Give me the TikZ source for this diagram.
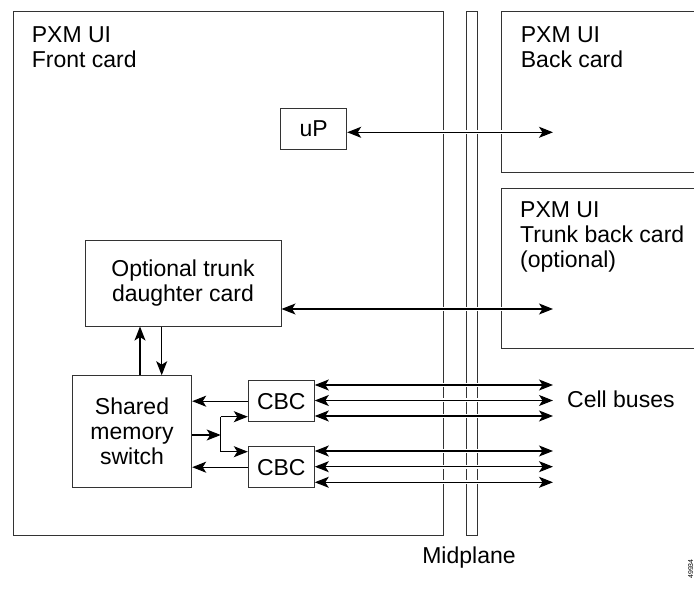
\documentclass[tikz,border=0pt]{standalone}
\usepackage{fontspec}
\setmainfont{Liberation Sans}
\usetikzlibrary{arrows.meta}
\begin{document}
\begin{tikzpicture}[x=1pt,y=-1pt,
  >={Stealth[length=14pt,width=11pt,inset=3.5pt]},
  txt/.style={font=\fontsize{23}{25}\selectfont, inner sep=0pt},
  card/.style={draw=black!80, line width=1pt, inner sep=0pt, anchor=north west},
  box/.style={draw=black!80, line width=1pt, inner sep=0pt, align=center, font=\fontsize{23}{25}\selectfont},
  halo/.style={preaction={draw=white, line width=4pt, arrows=-, shorten <=4pt, shorten >=4pt}},
  conn/.style={line width=1.1pt, ->, halo},
  conntwo/.style={line width=1.1pt, <->, halo},
  plain/.style={line width=1.1pt}
]
\useasboundingbox (0,0) rectangle (694,593);

% cards and midplane
\node[card, minimum width=430pt, minimum height=524pt] (front) at (12.5,11) {};
\node[card, minimum width=11pt, minimum height=524pt] (mid) at (466,11) {};
\node[card, minimum width=220pt, minimum height=161.3pt] (back) at (501,11) {};
\node[card, minimum width=220pt, minimum height=160.6pt] (trunkback) at (501,187.7) {};

% card labels (base anchor = baseline of last line)
\node[txt, anchor=base west, align=left] (frontlbl) at (31.7,68) {PXM UI\\Front card};
\node[txt, anchor=base west, align=left] (backlbl) at (520.7,68) {PXM UI\\Back card};
\node[txt, anchor=base west, align=left] (trunklbl) at (520,267.5) {PXM UI\\Trunk back card\\(optional)};
\node[txt, anchor=base west] (celllbl) at (567,408) {Cell buses};
\node[txt, anchor=base] (midlbl) at (469,563) {Midplane};
\node[inner sep=0pt, font=\fontsize{7}{7}\selectfont, rotate=90, anchor=south] (figid) at (693.5,569) {49934};

% inner boxes
\node[box, minimum width=66pt, minimum height=40.7pt] (up) at (313.7,128.7) {uP};
\node[box, minimum width=196pt, minimum height=85.3pt] (opt) at (183,283.4) {Optional trunk\\daughter card};
\node[box, minimum width=119.4pt, minimum height=112pt] (sms) at (132,431.7) {Shared\\memory\\switch};
\node[box, minimum width=66pt, minimum height=41pt] (cbca) at (281.3,401.2) {CBC};
\node[box, minimum width=66pt, minimum height=41pt] (cbcb) at (281.3,467.2) {CBC};

% free ends
\coordinate (rend) at (553,0);
\coordinate (upy) at (0,132.3);
\coordinate (trky) at (0,309);
\coordinate (fork) at (220.7,435);
\coordinate (forka) at (220.7,416.7);
\coordinate (forkb) at (220.7,451.7);
\coordinate (upx) at (140,0);
\coordinate (dnx) at (161.7,0);

% uP link
\draw[conntwo] (up.east |- upy) -- (rend |- upy);
% trunk link
\draw[conntwo] (opt.east |- trky) -- (rend |- trky);
% SMS <-> optional daughter card
\draw[conn] (sms.north -| upx) -- (opt.south -| upx);
\draw[conn] (opt.south -| dnx) -- (sms.north -| dnx);
% CBC -> SMS
\draw[conn] (cbca.west) -- (cbca.west -| sms.east);
\draw[conn] (cbcb.west) -- (cbcb.west -| sms.east);
% SMS -> fork -> CBCs
\draw[conn] (sms.east |- fork) -- (fork);
\draw[plain] (forka) -- (forkb);
\draw[conn] (forka) -- (forka -| cbca.west);
\draw[conn] (forkb) -- (forkb -| cbcb.west);
% cell buses
\foreach \yy/\cc in {385/cbca, 400.5/cbca, 416/cbca, 451/cbcb, 466.7/cbcb, 482.3/cbcb}{
  \coordinate (busy) at (0,\yy);
  \draw[conntwo] (\cc.east |- busy) -- (rend |- busy);
}
\end{tikzpicture}
\end{document}
